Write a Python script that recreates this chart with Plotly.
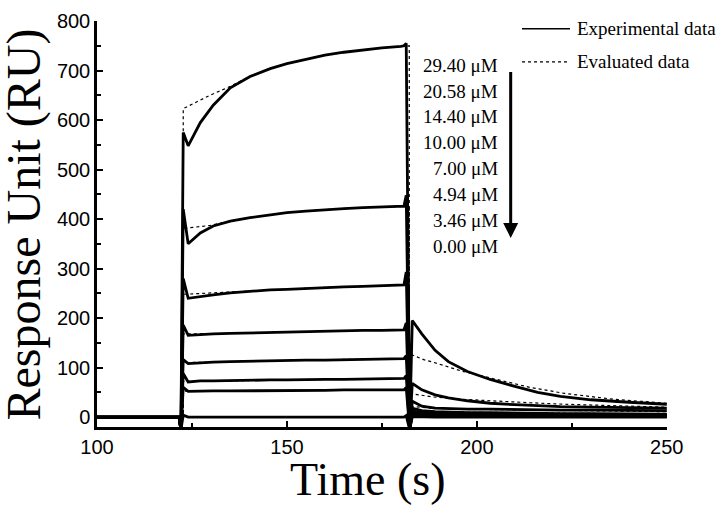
import plotly.graph_objects as go

# ---------------- data ----------------
conc_labels = ["29.40 μM", "20.58 μM", "14.40 μM", "10.00 μM",
               "7.00 μM", "4.94 μM", "3.46 μM", "0.00 μM"]

t_exp = [100, 121.6, 122.1, 122.7, 124.0, 127.2, 130.6, 135.1, 140.3, 145.6,
         150, 155, 160, 165, 170, 175, 180, 180.8, 181.4, 182.3,
         183.0, 185.5, 189, 192.5, 197.5, 203.5, 210, 216, 222, 230, 240, 250]

exp_2940 = [0, 0, -25, 575, 548, 595, 630, 665, 688, 704,
            714, 723, 731, 737, 742, 746, 749, 750, 755, -25,
            195, 168, 135, 112, 92, 76, 62, 50, 42, 35, 30, 26]
exp_2058 = [0, 0, -25, 420, 350, 372, 386, 396, 403, 409,
            413, 416, 419, 421, 423, 424, 426, 426, 448, -25,
            68, 55, 45, 39, 33, 28, 25, 23, 21, 20, 19, 18]
exp_1440 = [0, 0, -25, 280, 240, 244, 247, 251, 254, 257,
            258, 260, 262, 263, 264, 265, 266, 267, 293, -25,
            32, 22, 18, 17, 16, 16, 15, 15, 14, 14, 14, 13]
exp_1000 = [0, 0, -25, 186, 165, 167, 168, 169, 170, 171,
            172, 173, 173, 174, 175, 175, 176, 176, 190, -25,
            18, 13, 11, 10, 9, 9, 8, 8, 7, 7, 7, 6]
exp_0700 = [0, 0, -25, 116, 108, 110, 111, 112, 113, 114,
            114, 115, 115, 116, 116, 117, 118, 118, 124, -25,
            12, 9, 7, 6, 6, 5, 5, 5, 4, 4, 4, 4]
exp_0494 = [0, 0, -25, 88, 71, 73, 73, 74, 74, 75,
            75, 76, 76, 76, 77, 77, 78, 78, 84, -25,
            8, 6, 5, 4, 4, 3, 3, 3, 3, 3, 2, 2]
exp_0346 = [0, 0, -25, 60, 52, 53, 53, 53, 53, 54,
            54, 54, 54, 55, 55, 55, 55, 55, 60, -25,
            5, 4, 3, 3, 2, 2, 2, 2, 2, 2, 1, 1]
exp_0000 = [0, 0, -25, 4, 0, 0, 0, 0, 0, 0,
            0, 0, 0, 0, 0, 0, 0, 0, 3, -25,
            1, 0, 0, 0, 0, 0, 0, 0, 0, 0, 0, 0]

t_eval = [100, 122.7, 122.7, 125.3, 129.7, 135.1, 140.3, 145.6, 150, 160,
          170, 182.2, 182.2, 186, 188, 196, 205, 214, 223, 236, 250]

eval_2940 = [0, 0, 623, 633, 650, 668, 689, 704, 714, 731,
             742, 750, 128, 116, 112, 93, 77, 60, 48, 36, 28]
eval_2058 = [0, 0, 381, 383, 387, 396, 403, 409, 413, 419,
             423, 426, 48, 43, 41, 36, 32, 29, 26, 23, 20]
eval_1440 = [0, 0, 248, 249, 250, 252, 254, 257, 258, 262,
             264, 267, 22, 19, 18, 16, 15, 14, 13, 12, 11]
eval_1000 = [0, 0, 168, 168, 169, 169, 170, 171, 172, 173,
             175, 176, 13, 11, 11, 10, 9, 8, 8, 7, 6]
eval_0700 = [0, 0, 110, 110, 111, 112, 113, 114, 115, 116,
             117, 118, 9, 8, 7, 6, 6, 5, 5, 4, 4]
eval_0494 = [0, 0, 72, 72, 73, 73, 74, 75, 75, 76,
             77, 78, 6, 5, 5, 4, 4, 3, 3, 3, 2]
eval_0346 = [0, 0, 52, 52, 52, 53, 53, 53, 54, 54,
             55, 55, 4, 3, 3, 3, 2, 2, 2, 2, 1]
eval_0000 = [0, 0, 0, 0, 0, 0, 0, 0, 0, 0,
             0, 0, 0, 0, 0, 0, 0, 0, 0, 0, 0]

x_ticks = [100, 150, 200, 250]
y_ticks = [0, 100, 200, 300, 400, 500, 600, 700, 800]

exp_series = [exp_2940, exp_2058, exp_1440, exp_1000, exp_0700, exp_0494, exp_0346, exp_0000]
eval_series = [eval_2940, eval_2058, eval_1440, eval_1000, eval_0700, eval_0494, eval_0346, eval_0000]

# ---------------- figure ----------------
SERIF = "Liberation Serif"
SANS = "Liberation Sans"

fig = go.Figure()
for name, ys in zip(conc_labels, exp_series):
    fig.add_trace(go.Scatter(x=t_exp, y=ys, mode="lines", name=name,
                             line=dict(color="black", width=2.8),
                             showlegend=False, hoverinfo="skip"))
for name, ys in zip(conc_labels, eval_series):
    fig.add_trace(go.Scatter(x=t_eval, y=ys, mode="lines", name=name + " fit",
                             line=dict(color="black", width=1.2, dash="dot"),
                             showlegend=False, hoverinfo="skip"))

L, R, T, B = 97, 53, 10, 81
W, H = 720, 508
pw, ph = W - L - R, H - T - B


def px2paper(px, py):
    return (px - L) / pw, (H - B - py) / ph


annotations = []
# concentration labels (right aligned)
for i, lab in enumerate(conc_labels):
    annotations.append(dict(x=206.0, y=711 - i * 52.3, xref="x", yref="y",
                            text=lab, showarrow=False, xanchor="right",
                            yanchor="middle",
                            font=dict(family=SERIF, size=19, color="black")))
# arrow
annotations.append(dict(x=208.9, y=362, xref="x", yref="y",
                        ax=208.9, ay=700, axref="x", ayref="y",
                        text="", showarrow=True, arrowhead=2, arrowsize=1.0,
                        arrowwidth=3, arrowcolor="black"))
# legend texts
lx, ly1 = px2paper(575, 18)
_, ly2 = px2paper(575, 52)
annotations.append(dict(x=lx, y=ly1, xref="paper", yref="paper",
                        text="Experimental data", showarrow=False,
                        xanchor="left", yanchor="middle",
                        font=dict(family=SERIF, size=19, color="black")))
annotations.append(dict(x=lx, y=ly2, xref="paper", yref="paper",
                        text="Evaluated data", showarrow=False,
                        xanchor="left", yanchor="middle",
                        font=dict(family=SERIF, size=19, color="black")))
# axis titles
tx, ty = px2paper(368, 481)
annotations.append(dict(x=tx, y=ty, xref="paper", yref="paper",
                        text="Time (s)", showarrow=False,
                        xanchor="center", yanchor="middle",
                        font=dict(family=SERIF, size=46, color="black")))
yx, yy = px2paper(24, 219)
annotations.append(dict(x=yx, y=yy, xref="paper", yref="paper",
                        text="Response Unit (RU)", showarrow=False,
                        textangle=-90, xanchor="center", yanchor="middle",
                        font=dict(family=SERIF, size=48, color="black")))

sx0, sy1 = px2paper(522, 18)
sx1, sy2 = px2paper(570, 52)
shapes = [
    dict(type="line", xref="paper", yref="paper", x0=sx0, x1=sx1, y0=sy1, y1=sy1,
         line=dict(color="black", width=1.5)),
    dict(type="line", xref="paper", yref="paper", x0=sx0, x1=sx1, y0=sy2, y1=sy2,
         line=dict(color="black", width=1.2, dash="dot")),
]

axis_common = dict(showgrid=False, zeroline=False, showline=True,
                   linecolor="black", linewidth=2.5, ticks="inside",
                   ticklen=6, tickwidth=2, tickcolor="black",
                   tickfont=dict(family=SANS, size=20, color="black"),
                   ticklabeloverflow="allow", mirror=False)

fig.update_layout(
    width=W, height=H,
    margin=dict(l=L, r=R, t=T, b=B, pad=0),
    paper_bgcolor="white", plot_bgcolor="white",
    showlegend=False,
    xaxis=dict(range=[100, 250.05], tickvals=x_ticks,
               minor=dict(tickvals=[125, 175, 225], ticks="inside", ticklen=4,
                          tickwidth=2, tickcolor="black"),
               **axis_common),
    yaxis=dict(range=[-20, 800.1], tickvals=y_ticks,
               minor=dict(tickvals=[50, 150, 250, 350, 450, 550, 650, 750],
                          ticks="inside", ticklen=4, tickwidth=2, tickcolor="black"),
               **axis_common),
    annotations=annotations,
    shapes=shapes,
)

fig.write_html("out.html", config={"displayModeBar": False},
               post_script="document.body.style.margin='0px';")
